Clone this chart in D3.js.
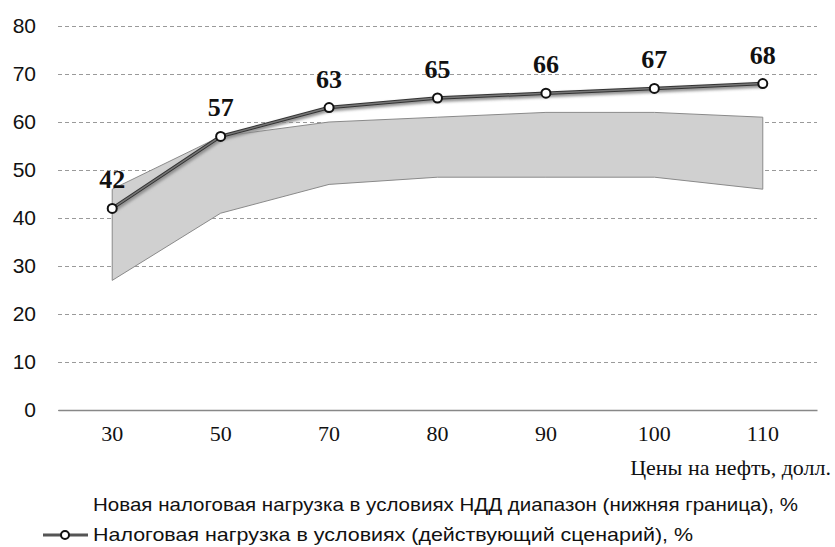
<!DOCTYPE html>
<html>
<head>
<meta charset="utf-8">
<script src="https://cdn.jsdelivr.net/npm/d3@7"></script>
<style>
  body { margin: 0; background: #fff; }
</style>
</head>
<body>
<div id="chart-area"></div>
<script>
// oil price categories, USD
const prices = ["30", "50", "70", "80", "90", "100", "110"];
// current scenario tax burden, %
const current = [42, 57, 63, 65, 66, 67, 68];
// new tax burden range under NDD (upper / lower edge), %
const rangeUpper = [46, 57, 60, 61, 62, 62, 61];
const rangeLower = [27, 41, 47, 48.5, 48.5, 48.5, 46];
const yTicks = [0, 10, 20, 30, 40, 50, 60, 70, 80];

const W = 835, H = 547;
const plot = {left: 58, right: 817, top: 26, bottom: 410};

let svg = d3.select("#chart-area")
  .append("svg")
  .attr("width", W)
  .attr("height", H);

let x = d3.scaleBand()
  .domain(prices)
  .range([plot.left, plot.right])
  .padding(0);

let y = d3.scaleLinear()
  .domain([0, 80])
  .range([plot.bottom, plot.top]);

const cx = d => x(d) + x.bandwidth() / 2;

// grid lines
let yAxis = d3.axisLeft(y).tickValues(yTicks).tickSize(-(plot.right - plot.left)).tickFormat(d => d);
let gy = svg.append("g")
  .attr("transform", `translate(${plot.left},0)`)
  .call(yAxis);
gy.select(".domain").remove();
gy.selectAll(".tick line")
  .attr("stroke", "#9a9a9a")
  .attr("stroke-dasharray", "4,3")
  .attr("stroke-width", 1);
gy.selectAll(".tick text")
  .attr("x", -22)
  .attr("font-family", "Arial, 'Liberation Sans', sans-serif")
  .attr("font-size", "21px")
  .attr("fill", "#111");

// range band
let band = prices.map((p, i) => ({p: p, hi: rangeUpper[i], lo: rangeLower[i]}));
svg.append("path")
  .datum(band)
  .attr("d", d3.area().x(d => cx(d.p)).y0(d => y(d.lo)).y1(d => y(d.hi)))
  .attr("fill", "#d0d0d0")
  .attr("stroke", "#8a8a8a")
  .attr("stroke-width", 1);

// x axis line
let xAxis = d3.axisBottom(x).tickSize(0).tickPadding(15);
let gx = svg.append("g")
  .attr("transform", `translate(0,${plot.bottom})`)
  .call(xAxis);
gx.select(".domain").attr("stroke", "#888").attr("stroke-width", 1.5);
gx.selectAll(".tick text")
  .attr("font-family", "'Liberation Serif', 'Times New Roman', serif")
  .attr("font-size", "22px")
  .attr("fill", "#111");

// current scenario line
let pts = prices.map((p, i) => ({p: p, v: current[i]}));
let line = d3.line().x(d => cx(d.p)).y(d => y(d.v));

let defs = svg.append("defs");
defs.append("filter").attr("id", "blur")
  .append("feGaussianBlur").attr("stdDeviation", 1.5);

svg.append("path")
  .datum(pts)
  .attr("d", line)
  .attr("transform", "translate(1,2)")
  .attr("fill", "none")
  .attr("stroke", "#888")
  .attr("stroke-width", 4)
  .attr("filter", "url(#blur)");
svg.append("path")
  .datum(pts)
  .attr("d", line)
  .attr("fill", "none")
  .attr("stroke", "#333")
  .attr("stroke-width", 3.5);
svg.append("path")
  .datum(pts)
  .attr("d", line)
  .attr("fill", "none")
  .attr("stroke", "#777")
  .attr("stroke-width", 1.5);

svg.selectAll("circle.pt")
  .data(pts)
  .enter().append("circle")
  .attr("class", "pt")
  .attr("cx", d => cx(d.p))
  .attr("cy", d => y(d.v))
  .attr("r", 4.5)
  .attr("fill", "#fff")
  .attr("stroke", "#111")
  .attr("stroke-width", 2);

svg.selectAll("text.lbl")
  .data(pts)
  .enter().append("text")
  .attr("class", "lbl")
  .attr("x", d => cx(d.p))
  .attr("y", d => y(d.v) - 20)
  .attr("text-anchor", "middle")
  .attr("font-family", "'Liberation Serif', 'Times New Roman', serif")
  .attr("font-weight", "bold")
  .attr("font-size", "26px")
  .attr("fill", "#111")
  .text(d => d.v);

// x axis title
svg.append("text")
  .attr("x", 831)
  .attr("y", 475)
  .attr("text-anchor", "end")
  .attr("font-family", "'Liberation Serif', 'Times New Roman', serif")
  .attr("font-size", "22px")
  .attr("fill", "#111")
  .text("Цены на нефть, долл.");

// legend
const legendFont = "Arial, 'Liberation Sans', sans-serif";
svg.append("text")
  .attr("x", 93)
  .attr("y", 511)
  .attr("font-family", legendFont)
  .attr("font-size", "19px")
  .attr("textLength", 705)
  .attr("lengthAdjust", "spacingAndGlyphs")
  .attr("fill", "#111")
  .text("Новая налоговая нагрузка в условиях НДД диапазон (нижняя граница), %");

let lg = svg.append("g");
lg.append("line")
  .attr("x1", 43).attr("x2", 88)
  .attr("y1", 535).attr("y2", 535)
  .attr("stroke", "#555").attr("stroke-width", 3);
lg.append("circle")
  .attr("cx", 65).attr("cy", 535).attr("r", 4)
  .attr("fill", "#fff").attr("stroke", "#111").attr("stroke-width", 2);
lg.append("text")
  .attr("x", 93)
  .attr("y", 541)
  .attr("font-family", legendFont)
  .attr("font-size", "19px")
  .attr("textLength", 600)
  .attr("lengthAdjust", "spacingAndGlyphs")
  .attr("fill", "#111")
  .text("Налоговая нагрузка в условиях (действующий  сценарий), %");
</script>
</body>
</html>
